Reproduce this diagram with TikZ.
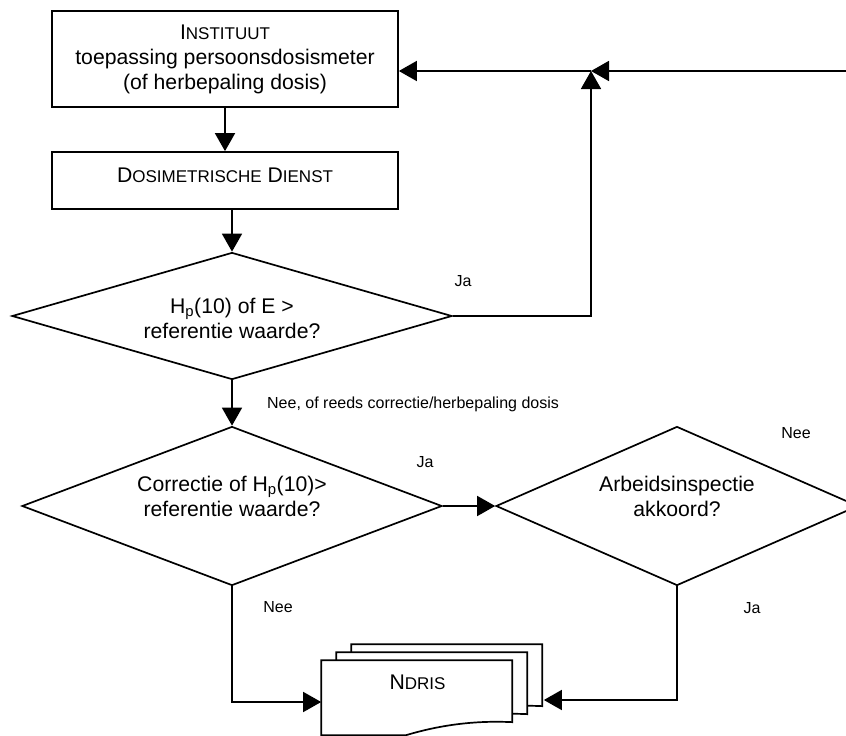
\documentclass[tikz,border=0pt]{standalone}
\usepackage{fontspec}
\setmainfont{Liberation Sans}
\usetikzlibrary{shapes}
\usetikzlibrary{arrows.meta}
\usetikzlibrary{calc}

% fake small caps as in the original drawing
\newcommand{\Kap}[2]{#1{\fontsize{17}{20}\selectfont #2}}

\begin{document}
\begin{tikzpicture}
	[x=1pt, y=-1pt,
	line width=1.7pt,
	every node/.style={font=\fontsize{21.2}{25}\selectfont}]

\tikzstyle{doos}=[draw, rectangle, minimum width=346pt, align=center]
\tikzstyle{ruit}=[draw, diamond, inner sep=0pt]
\tikzstyle{tekst}=[align=center, font=\fontsize{21.2}{25}\selectfont]
\tikzstyle{klein}=[font=\fontsize{16}{18}\selectfont]
\tikzstyle{pijl}=[-{Triangle[length=18pt,width=20pt]}]
\tikzstyle{vel}=[draw, fill=white]

\path[use as bounding box, fill=white] (0,0) rectangle (846,736);
\clip (0,0) rectangle (846,736);

% Boxes
\node (instituut) [doos, minimum height=96pt] at (225,59)
	{\Kap{I}{NSTITUUT}\\toepassing persoonsdosismeter\\(of herbepaling dosis)};
\node (dienst) [doos, minimum height=57pt, text depth=10pt] at (225,180.5)
	{\Kap{D}{OSIMETRISCHE} \Kap{D}{IENST}};

% Decisions
\node (hpref) [ruit, minimum width=440pt, minimum height=127pt] at (232,316)
	[label={[tekst, yshift=-2pt]center:H\textsubscript{p}(10) of E >\\referentie waarde?}] {};
\node (correctie) [ruit, minimum width=420pt, minimum height=159pt] at (232,506)
	[label={[tekst, yshift=10pt]center:Correctie of H\textsubscript{p}(10)>\\referentie waarde?}] {};
\node (inspectie) [ruit, minimum width=362pt, minimum height=159pt] at (677,506)
	[label={[tekst, yshift=10pt]center:Arbeidsinspectie\\akkoord?}] {};

% NDRIS stack
\node (ndris) [minimum width=191pt, minimum height=62pt, inner sep=0pt] at (417.5,692) {};
\foreach \k in {2,1,0}
	\draw[vel, shift={($(ndris.north west)+(15*\k,-8*\k)$)}]
		(0,0) -- (191,0) -- (191,62)
		.. controls (150,60) and (115,66) .. (85,75)
		-- (0,75) -- cycle;
\node (ndristekst) [tekst, yshift=10pt] at (ndris) {\Kap{N}{DRIS}};

% Connectors
\coordinate (samen) at (591,71);

\draw[pijl] (instituut) -- (dienst);
\draw[pijl] (hpref.north |- dienst.south) -- (hpref.north);
\draw[pijl] (hpref.east) -| (samen);
\draw[pijl] (inspectie.east) -- ++(30,0) |- (samen);
\draw[pijl] (samen) -- (samen -| instituut.east);
\draw[pijl] (hpref.south) -- (correctie.north);
\draw[pijl] (correctie.east) -- (inspectie.west);
\draw[pijl] (correctie.south) |- ($(ndris.west)+(0,10)$);
\draw[pijl] (inspectie.south) |- ($(ndris.east)+(30,8)$);

% Labels
\node (jaeen) [klein] at (463,281) {Ja};
\node (neeeen) [klein, anchor=west] at (263,404) {Nee, of reeds correctie/herbepaling dosis};
\node (jatwee) [klein] at (425,462) {Ja};
\node (neetwee) [klein] at (796,433) {Nee};
\node (jadrie) [klein] at (752,608) {Ja};
\node (needrie) [klein] at (278,607) {Nee};

\end{tikzpicture}
\end{document}
